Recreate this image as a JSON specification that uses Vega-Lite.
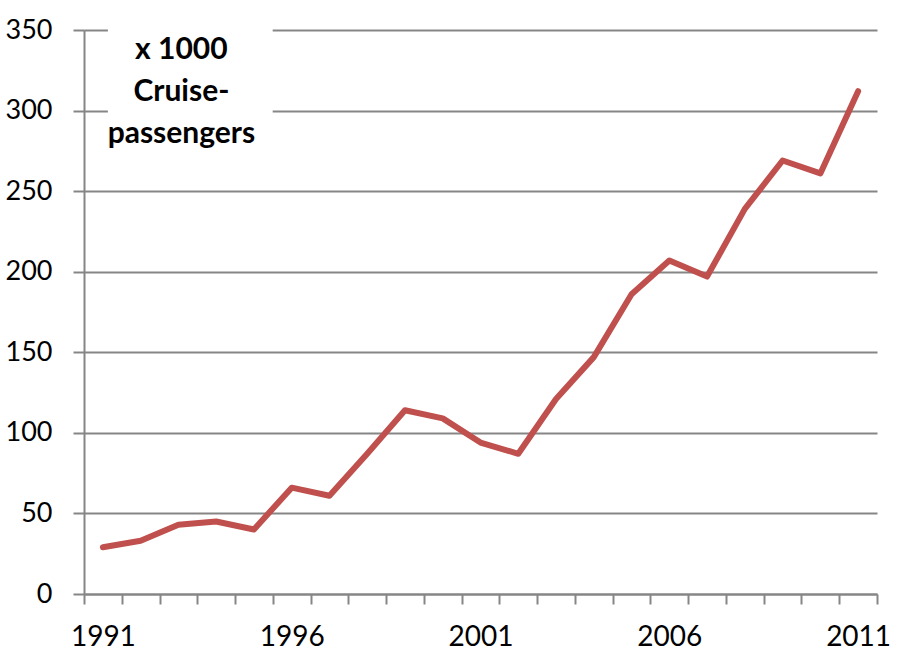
{
  "$schema": "https://vega.github.io/schema/vega-lite/v6.json",
  "width": 793,
  "height": 564,
  "autosize": "none",
  "padding": {"left": 84, "top": 30, "right": 27, "bottom": 69},
  "background": "white",
  "config": {
    "view": {"stroke": null},
    "font": "Lato"
  },
  "layer": [
    {
      "data": {"values": [
        {"year": "1991", "pax": 29}, {"year": "1992", "pax": 33}, {"year": "1993", "pax": 43},
        {"year": "1994", "pax": 45}, {"year": "1995", "pax": 40}, {"year": "1996", "pax": 66},
        {"year": "1997", "pax": 61}, {"year": "1998", "pax": 87}, {"year": "1999", "pax": 114},
        {"year": "2000", "pax": 109}, {"year": "2001", "pax": 94}, {"year": "2002", "pax": 87},
        {"year": "2003", "pax": 121}, {"year": "2004", "pax": 147}, {"year": "2005", "pax": 186},
        {"year": "2006", "pax": 207}, {"year": "2007", "pax": 197}, {"year": "2008", "pax": 239},
        {"year": "2009", "pax": 269}, {"year": "2010", "pax": 261}, {"year": "2011", "pax": 312}
      ]},
      "mark": {"type": "line", "color": "#C0504D", "strokeWidth": 6, "strokeCap": "round", "strokeJoin": "round"},
      "encoding": {
        "x": {
          "field": "year", "type": "ordinal", "bandPosition": 0.5,
          "scale": {"type": "band", "paddingInner": 0, "paddingOuter": 0},
          "axis": {
            "title": null, "tickBand": "extent", "labelAngle": 0,
            "labelExpr": "(toNumber(datum.value) - 1991) % 5 == 0 ? datum.label : ''",
            "domainColor": "#868686", "domainWidth": 2,
            "tickColor": "#868686", "tickWidth": 2, "tickSize": 10,
            "labelFontSize": 28, "labelColor": "#000000", "labelPadding": 19,
            "grid": false
          }
        },
        "y": {
          "field": "pax", "type": "quantitative",
          "scale": {"domain": [0, 350], "nice": false},
          "axis": {
            "title": null, "values": [0, 50, 100, 150, 200, 250, 300, 350],
            "domainColor": "#868686", "domainWidth": 2,
            "tickColor": "#868686", "tickWidth": 2, "tickSize": 11,
            "gridColor": "#868686", "gridWidth": 2, "grid": true,
            "labelFontSize": 27, "labelColor": "#000000", "labelPadding": 21
          }
        }
      }
    },
    {
      "data": {"values": [{"from": "1991", "to": "1996", "top": 352, "bottom": 270}]},
      "mark": {"type": "rect", "color": "white", "xOffset": 5, "x2Offset": -19},
      "encoding": {
        "x": {"field": "from", "type": "ordinal"},
        "x2": {"field": "to"},
        "y": {"field": "top", "type": "quantitative"},
        "y2": {"field": "bottom"}
      }
    },
    {
      "data": {"values": [{"year": "1993", "pos": 337.6, "label": "x 1000\nCruise-\npassengers"}]},
      "mark": {"type": "text", "fontSize": 30, "fontWeight": "bold", "color": "#000000", "lineBreak": "\n", "lineHeight": 42, "baseline": "middle", "align": "center", "dx": 3},
      "encoding": {
        "x": {"field": "year", "type": "ordinal", "bandPosition": 0.5},
        "y": {"field": "pos", "type": "quantitative"},
        "text": {"field": "label"}
      }
    }
  ]
}
